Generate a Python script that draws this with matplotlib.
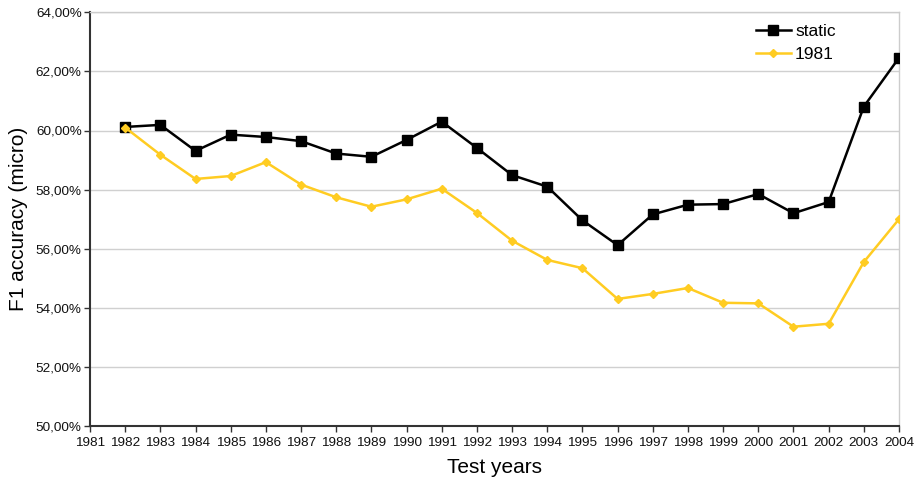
import matplotlib
matplotlib.use("Agg")
import matplotlib.pyplot as plt
from matplotlib.ticker import FuncFormatter, MultipleLocator

years = list(range(1982, 2005))
static = [60.12, 60.19, 59.31, 59.86, 59.78, 59.64, 59.22, 59.11, 59.68, 60.30,
          59.41, 58.49, 58.10, 56.96, 56.12, 57.16, 57.49, 57.51, 57.85, 57.20,
          57.58, 60.81, 62.46]
base_1981 = [60.10, 59.18, 58.36, 58.46, 58.93, 58.17, 57.74, 57.42, 57.67, 58.03,
             57.21, 56.27, 55.62, 55.34, 54.30, 54.47, 54.67, 54.17, 54.15, 53.36,
             53.46, 55.55, 57.00]
xticks = list(range(1981, 2005))

plt.rcParams['font.family'] = ['Liberation Sans', 'DejaVu Sans']

W, H = 918, 479
fig = plt.figure(figsize=(W / 100, H / 100), dpi=100)
x0, x1, y0, y1 = 90, 899, 12.3, 426
ax = fig.add_axes([x0 / W, 1 - y1 / H, (x1 - x0) / W, (y1 - y0) / H])

ax.plot(years, static, color='black', lw=1.8, marker='s', ms=7, label='static', zorder=3)
ax.plot(years, base_1981, color='#ffcc22', lw=1.8, marker='D', ms=4.5, label='1981', zorder=3)

ax.set_xlim(1981, 2004)
ax.set_ylim(50, 64)
ax.set_xticks(xticks)
ax.yaxis.set_major_locator(MultipleLocator(2))
ax.yaxis.set_major_formatter(FuncFormatter(lambda v, p: f"{v:.2f}%".replace('.', ',')))
ax.tick_params(axis='both', labelsize=9.7, direction='out', length=4, width=1,
               color='#333333', labelcolor='#111111')
ax.tick_params(axis='x', pad=4)
ax.tick_params(axis='y', pad=2)
ax.grid(axis='y', color='#d0d0d0', lw=1)
ax.set_axisbelow(True)

for side in ('left', 'bottom'):
    ax.spines[side].set_color('#333333')
    ax.spines[side].set_linewidth(1.5)
for side in ('right', 'top'):
    ax.spines[side].set_color('#cccccc')
    ax.spines[side].set_linewidth(1)

ax.set_xlabel('Test years', fontsize=15)
ax.set_ylabel('F1 accuracy (micro)', fontsize=15)
ax.xaxis.set_label_coords(0.5, -(458 - y1) / (y1 - y0))
ax.yaxis.set_label_coords(-(x0 - 28) / (x1 - x0), 0.5)

ax.legend(loc='upper left', bbox_to_anchor=(756 / W, 1 - 24 / H),
          bbox_transform=fig.transFigure, frameon=False, borderpad=0, borderaxespad=0,
          fontsize=12.5, handlelength=2.0, handletextpad=0.25, labelspacing=0.45)

fig.savefig('out.png', dpi=100)
